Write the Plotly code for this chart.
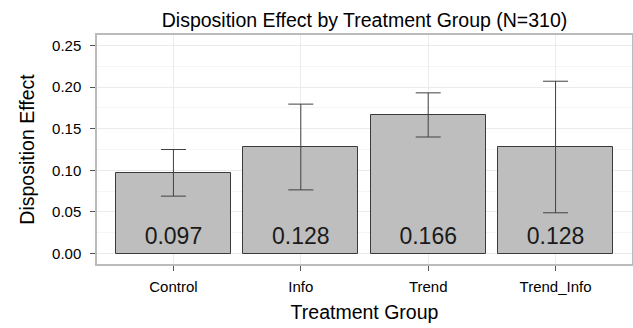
import plotly.graph_objects as go

groups = ["Control", "Info", "Trend", "Trend_Info"]
means = [0.097, 0.128, 0.166, 0.128]
err_plus = [0.028, 0.0515, 0.027, 0.079]
err_minus = [0.028, 0.0515, 0.026, 0.079]
labels = ["0.097", "0.128", "0.166", "0.128"]
label_y = [0.019, 0.019, 0.019, 0.019]
y_ticks = [0.00, 0.05, 0.10, 0.15, 0.20, 0.25]
y_tick_text = ["0.00", "0.05", "0.10", "0.15", "0.20", "0.25"]

FONT = "Liberation Sans, Arial, Helvetica, sans-serif"

fig = go.Figure()
fig.add_trace(go.Bar(
    x=list(range(1, 5)), y=means, width=0.9,
    marker=dict(color="#BEBEBE", line=dict(color="#3a3a3a", width=1)),
    error_y=dict(type="data", symmetric=False, array=err_plus, arrayminus=err_minus,
                 color="#404040", thickness=1, width=12.5),
    showlegend=False, hoverinfo="skip",
))
fig.add_trace(go.Scatter(
    x=list(range(1, 5)), y=label_y, mode="text", text=labels,
    textfont=dict(family=FONT, size=23, color="#1a1a1a"),
    textposition="middle center", showlegend=False, hoverinfo="skip",
))

fig.update_layout(
    width=633, height=328,
    margin=dict(l=97, r=1, t=35, b=64, autoexpand=False),
    paper_bgcolor="white", plot_bgcolor="white",
    font=dict(family=FONT, color="black"),
    title=dict(text="Disposition Effect by Treatment Group (N=310)",
               x=(97 + 632) / 2 / 633, xanchor="center", y=1 - 20 / 328, yanchor="middle",
               font=dict(size=19.5, color="black"), automargin=False),
    bargap=0,
)
fig.update_xaxes(
    range=[0.4, 4.6], tickmode="array", tickvals=list(range(1, 5)), ticktext=groups,
    ticks="outside", ticklen=5, tickcolor="#555", tickfont=dict(size=15, color="black"),
    ticklabelstandoff=3,
    showgrid=True, gridcolor="#ebebeb", gridwidth=1, automargin=False,
    showline=True, linecolor="#bbbbbb", linewidth=1.5, mirror=True, zeroline=False,
    title=dict(text="Treatment Group", font=dict(size=19.5, color="black"), standoff=12),
)
fig.update_yaxes(
    range=[-0.0125, 0.2625], tickmode="array", tickvals=y_ticks, ticktext=y_tick_text,
    ticks="outside", ticklen=5, tickcolor="#555", tickfont=dict(size=15, color="black"),
    ticklabelstandoff=6,
    showgrid=True, gridcolor="#ebebeb", gridwidth=1, automargin=False,
    minor=dict(dtick=0.025, tick0=0.025, showgrid=True, gridcolor="#f5f5f5", gridwidth=0.8),
    showline=True, linecolor="#bbbbbb", linewidth=1.5, mirror=True, zeroline=False,
    title=dict(text="Disposition Effect", font=dict(size=19.5, color="black"), standoff=12),
)

fig.write_html("out.html", config={"displayModeBar": False},
               post_script="document.body.style.margin='0';document.body.style.overflow='hidden';")
